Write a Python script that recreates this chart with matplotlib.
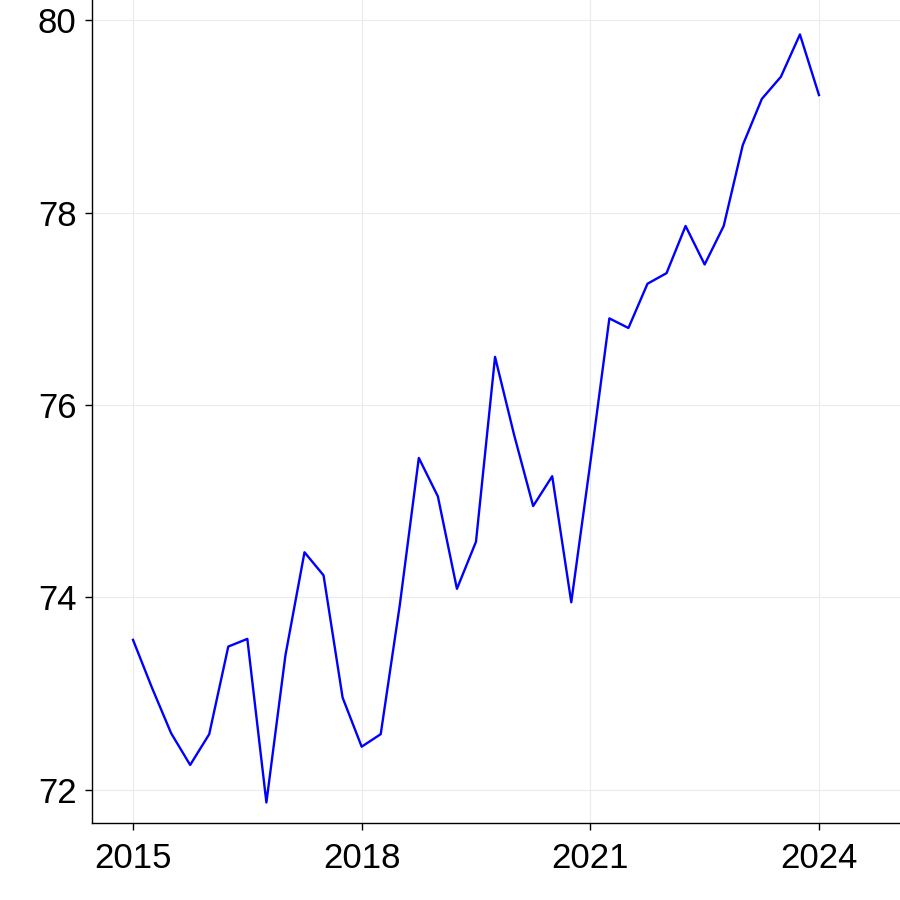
import numpy as np
import matplotlib.pyplot as plt

plt.rcParams['font.family'] = ['Liberation Sans', 'DejaVu Sans']

# quarterly values, 2015 Q1 .. 2024 Q1
quarters = np.arange(2015, 2024.01, 0.25)
values = [73.56, 73.06, 72.59, 72.26, 72.58, 73.49, 73.57, 71.87,
          73.40, 74.47, 74.23, 72.96, 72.45, 72.58, 73.92, 75.45,
          75.05, 74.09, 74.58, 76.50, 75.69, 74.95, 75.26, 73.95,
          75.40, 76.90, 76.80, 77.26, 77.37, 77.86, 77.46, 77.86,
          78.70, 79.18, 79.41, 79.85, 79.22]
xticks = [2015, 2018, 2021, 2024]
yticks = [72, 74, 76, 78, 80]

fig = plt.figure(figsize=(9, 9), dpi=100)
ax = fig.add_axes([92 / 900, 77 / 900, 808 / 900, 823 / 900])

ax.plot(quarters, values, color='#0000ff', lw=1.7)

ax.set_xlim(2014.462, 2025.063)
ax.set_ylim(71.657, 80.208)
ax.set_xticks(xticks)
ax.set_yticks(yticks)
ax.grid(True, color='#ebebeb', lw=0.8)
ax.set_axisbelow(True)

for s in ['top', 'right']:
    ax.spines[s].set_visible(False)
for s in ['left', 'bottom']:
    ax.spines[s].set_linewidth(1.0)

ax.tick_params(direction='out', length=5, width=1, labelsize=25, colors='black')
ax.tick_params(axis='x', pad=9)
ax.tick_params(axis='y', pad=6)

fig.savefig('out.png', dpi=100)
